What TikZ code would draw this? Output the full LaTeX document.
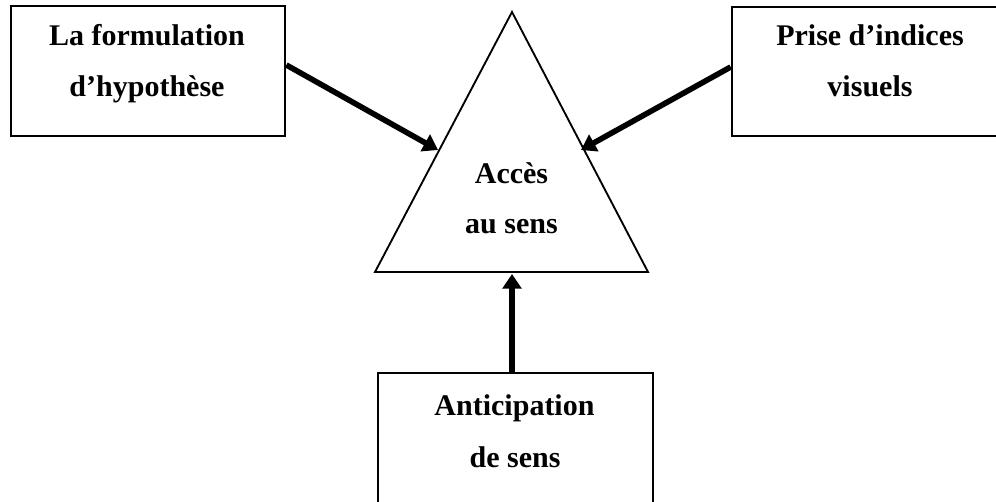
\documentclass[tikz,border=0pt]{standalone}
\usepackage{fontspec}
\setmainfont{Liberation Serif}
\usetikzlibrary{arrows.meta}
\begin{document}
\begin{tikzpicture}[x=0.75pt,y=-0.75pt,
  boxst/.style={draw=black,line width=2pt,rectangle,inner sep=0pt},
  txt/.style={font=\fontsize{22.5}{26}\selectfont\bfseries,inner sep=0pt,anchor=base},
  arr/.style={line width=4.2pt,-{Triangle[length=11pt,width=14pt]}}]
\clip (0,0) rectangle (996,502);
% boxes
\node[boxst,minimum width=274*0.75pt,minimum height=130*0.75pt] (hyp) at (148,71) {};
\node[boxst,minimum width=268*0.75pt,minimum height=129*0.75pt] (ind) at (866,71.5) {};
\node[boxst,minimum width=275*0.75pt,minimum height=132*0.75pt] (ant) at (515.5,439) {};
% triangle
\coordinate (apex) at (512,12);
\coordinate (bl) at (375,272);
\coordinate (br) at (648,272);
\draw[line width=1.4pt,line join=miter] (apex) -- (bl) -- (br) -- cycle;
% texts
\node[txt] (t1) at (147,46) {La formulation};
\node[txt] (t2) at (147,97) {d’hypothèse};
\node[txt] (t3) at (870,46) {Prise d’indices};
\node[txt] (t4) at (870,97) {visuels};
\node[txt] (t5) at (511.5,184) {Accès};
\node[txt] (t6) at (511.5,234) {au sens};
\node[txt] (t7) at (514.5,415) {Anticipation};
\node[txt] (t8) at (515,467) {de sens};
% arrow targets
\coordinate (tl) at (438,150);
\coordinate (tr) at (581,150);
\coordinate (tb) at (512,274);
\draw[arr] (hyp.east |- 0,65) -- (tl);
\draw[arr] (ind.west |- 0,67) -- (tr);
\draw[arr] (ant.north -| tb) -- (tb);
\end{tikzpicture}
\end{document}
